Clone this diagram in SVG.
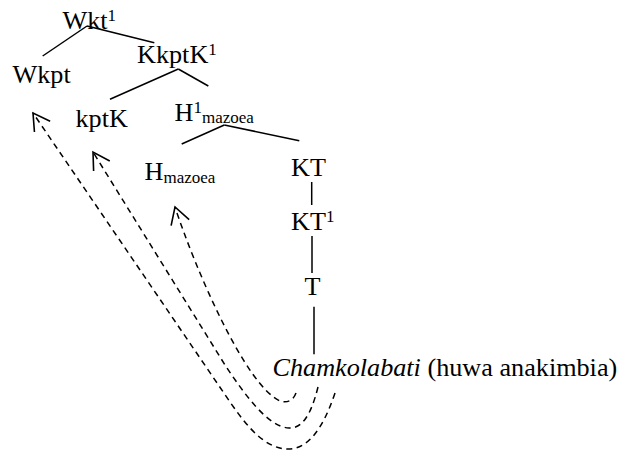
<svg xmlns="http://www.w3.org/2000/svg" width="623" height="452" viewBox="0 0 623 452">
<style>
text{font-family:"Liberation Serif","Times New Roman",serif;font-size:26.2px;fill:#000}
.s{font-size:17px}
.it{font-style:italic}
.ln{stroke:#000;stroke-width:1.5;fill:none}
.da{stroke:#000;stroke-width:1.5;fill:none;stroke-dasharray:6 4.5}
</style>
<defs>
<marker id="ah" markerUnits="userSpaceOnUse" viewBox="-20 -12 24 24" refX="0" refY="0" markerWidth="24" markerHeight="24" orient="auto" overflow="visible">
<path d="M-16.5,-9.5 L0,0 L-16.5,9.5" fill="none" stroke="#000" stroke-width="1.6"/>
</marker>
</defs>
<rect width="623" height="452" fill="#fff"/>
<g id="connectors">
<line class="ln" x1="87" y1="26" x2="42.7" y2="56"/>
<line class="ln" x1="87" y1="26" x2="154.3" y2="42.7"/>
<line class="ln" x1="178.3" y1="69" x2="110" y2="99.3"/>
<line class="ln" x1="178.3" y1="69" x2="208.3" y2="86"/>
<line class="ln" x1="224.3" y1="125" x2="181.7" y2="144"/>
<line class="ln" x1="224.3" y1="125" x2="299.3" y2="140.7"/>
<line class="ln" x1="311.7" y1="182" x2="311.7" y2="205"/>
<line class="ln" x1="312" y1="236" x2="312" y2="273"/>
<line class="ln" x1="314" y1="306.7" x2="314" y2="354.3"/>
<path class="da" marker-end="url(#ah)" d="M335,393 C322,432 306,450 287,449 C265,448 248,428 230,402 L33,113"/>
<path class="da" marker-end="url(#ah)" d="M318,387 C311,415 302,429 289,428 C268,427 245,395 225,365 L93,152"/>
<path class="da" marker-end="url(#ah)" d="M296,393 C293,401 287,403 280,401 C245,385 195,268 175,207"/>
</g>
<g id="n-wkt1"><text x="62.5" y="29">Wkt<tspan class="s" dy="-8">1</tspan></text></g>
<g id="n-wkpt"><text x="12.5" y="83.3">Wkpt</text></g>
<g id="n-kkptk1"><text x="137" y="63.3">KkptK<tspan class="s" dy="-8">1</tspan></text></g>
<g id="n-kptk"><text x="75.5" y="126.7">kptK</text></g>
<g id="n-h1mazoea"><text x="174.5" y="120.7">H<tspan class="s" dy="-8">1</tspan><tspan class="s" dy="10.3">mazoea</tspan></text></g>
<g id="n-hmazoea"><text x="144.5" y="180">H<tspan class="s" dy="2.7">mazoea</tspan></text></g>
<g id="n-kt"><text x="291" y="176">KT</text></g>
<g id="n-kt1"><text x="291" y="230">KT<tspan class="s" dy="-8">1</tspan></text></g>
<g id="n-t"><text x="304.5" y="295">T</text></g>
<g id="n-chamkolabati"><text x="272.5" y="376"><tspan class="it">Chamkolabati</tspan> (huwa anakimbia)</text></g>
</svg>
